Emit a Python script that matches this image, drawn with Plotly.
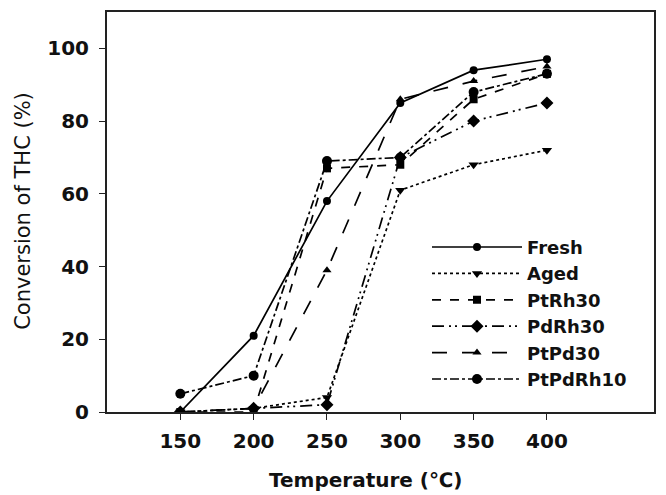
import plotly.graph_objects as go

temps = [150, 200, 250, 300, 350, 400]
fresh = [0, 21, 58, 85, 94, 97]
aged = [0, 1, 4, 61, 68, 72]
ptrh30 = [0, 0, 67, 68, 86, 93]
pdrh30 = [0, 1, 2, 70, 80, 85]
ptpd30 = [0, 1, 39, 86, 91, 95]
ptpdrh10 = [5, 10, 69, 70, 88, 93]
y_ticks = [0, 20, 40, 60, 80, 100]

series = [
    ("Fresh", fresh, "solid", "circle", 8),
    ("Aged", aged, "dot", "triangle-down", 9),
    ("PtRh30", ptrh30, "dash", "square", 8),
    ("PdRh30", pdrh30, "12px,5px,2px,4px,2px,5px", "diamond", 10),
    ("PtPd30", ptpd30, "longdash", "triangle-up", 8),
    ("PtPdRh10", ptpdrh10, "dashdot", "circle", 10),
]

fig = go.Figure()
for name, vals, dash, sym, size in series:
    fig.add_trace(go.Scatter(
        x=temps, y=vals, name=name, mode="lines+markers",
        line=dict(color="black", width=1.7, dash=dash),
        marker=dict(symbol=sym, size=size, color="black"),
    ))

ff = "DejaVu Sans, sans-serif"
fig.update_layout(
    width=666, height=495,
    margin=dict(l=107, r=10, t=11, b=83),
    plot_bgcolor="white", paper_bgcolor="white",
    font=dict(family=ff, color="#111"),
    showlegend=True,
    legend=dict(
        x=0.585, y=0.458, xanchor="left", yanchor="top",
        bgcolor="rgba(0,0,0,0)", borderwidth=0,
        font=dict(size=18, family=ff, weight="bold"),
        itemwidth=90, tracegroupgap=0,
    ),
    xaxis=dict(
        range=[100, 473], tickvals=temps,
        showline=True, linecolor="#222", linewidth=2, mirror=True,
        ticks="outside", ticklen=6, tickcolor="#222", showgrid=False, zeroline=False,
        tickfont=dict(size=20, weight="bold"), ticklabelstandoff=4,
    ),
    yaxis=dict(
        range=[0, 110], tickvals=y_ticks,
        showline=True, linecolor="#222", linewidth=2, mirror=True,
        ticks="outside", ticklen=6, tickcolor="#222", showgrid=False, zeroline=False,
        tickfont=dict(size=20, weight="bold"), ticklabelstandoff=6,
    ),
    annotations=[
        dict(
            text="Temperature (℃)", xref="paper", yref="paper",
            x=(366 - 107) / 549, y=-(480 - 412) / 401, xanchor="center", yanchor="middle",
            showarrow=False, font=dict(size=20, weight="bold", family=ff),
        ),
        dict(
            text="Conversion of THC (%)", xref="paper", yref="paper",
            x=-(107 - 22) / 549, y=(412 - 210) / 401, xanchor="center", yanchor="middle",
            textangle=-90, showarrow=False, font=dict(size=21, family=ff),
        ),
    ],
)

fig.write_html("out.html")
